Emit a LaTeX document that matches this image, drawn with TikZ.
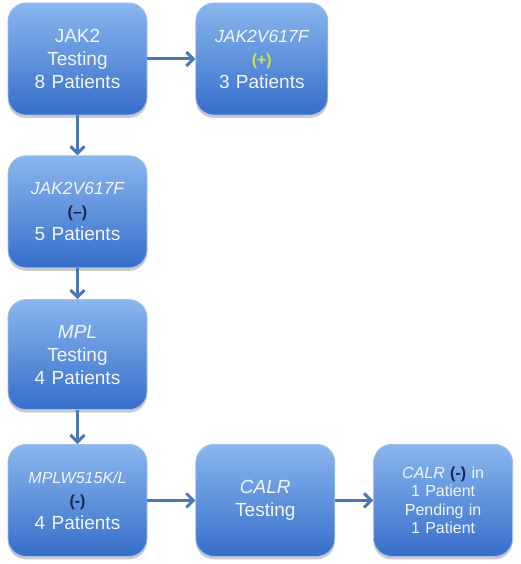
\documentclass[tikz,border=0pt]{standalone}
\usepackage{fontspec}
\setmainfont{Liberation Sans}
\usepackage{xcolor}
\definecolor{boxtop}{RGB}{138,182,238}
\definecolor{boxbot}{RGB}{54,110,202}
\definecolor{boxline}{RGB}{160,192,234}
\definecolor{arrowblue}{RGB}{74,120,181}
\definecolor{plusgreen}{RGB}{205,228,70}
\definecolor{minusnavy}{RGB}{24,38,82}
\definecolor{boxtext}{RGB}{242,246,255}
\usetikzlibrary{arrows.meta, positioning, shadows}
\newcommand{\genename}{\fontsize{17.5}{22}\selectfont\itshape}
\newcommand{\signmark}[2]{{\fontsize{16}{20}\selectfont\bfseries\color{#1}#2}}
\tikzset{
  stepbox/.style={draw=boxline, line width=0.8pt,
    top color=boxtop, bottom color=boxbot,
    rounded corners=18pt, minimum width=139pt, minimum height=112pt,
    text width=132pt, align=center, text=boxtext,
    font=\fontsize{19}{23}\selectfont,
    drop shadow={shadow xshift=0pt, shadow yshift=-3pt,
      fill=black!45, opacity=0.45}},
  smallbox/.style={stepbox, font=\fontsize{16}{18.5}\selectfont},
  flowarrow/.style={-{Straight Barb[length=7pt,width=14pt]},
    line width=3pt, color=arrowblue}
}
\begin{document}
\begin{tikzpicture}[x=1pt, y=1pt]
  \useasboundingbox (0,0) rectangle (520,-564);

  %% Top row
  \node[stepbox] (jaktest) at (77.5,-59) {JAK2\\Testing\\8 Patients};
  \node[stepbox, right=48pt of jaktest, minimum width=132pt,
        text width=124pt] (jakpos)
    {{\genename JAK2V617F}\\\signmark{plusgreen}{(+)}\\3 Patients};

  %% Left column
  \node[stepbox, below=40pt of jaktest] (jakneg)
    {{\genename JAK2V617F}\\\signmark{minusnavy}{(--)}\\5 Patients};
  \node[stepbox, below=31pt of jakneg, minimum height=110pt] (mpltest)
    {{\itshape MPL}\\Testing\\4 Patients};
  \node[stepbox, below=34pt of mpltest] (mplneg)
    {{\fontsize{16}{20}\selectfont\itshape MPLW515K/L}\\\signmark{minusnavy}{(-)}\\4 Patients};

  %% Bottom row
  \node[stepbox, right=48pt of mplneg] (calrtest) {{\itshape CALR}\\Testing};
  \node[smallbox, right=38pt of calrtest] (calrres)
    {{\itshape CALR} \signmark{minusnavy}{(-)} in\\1 Patient\\Pending in\\1 Patient};

  %% Arrows
  \draw[flowarrow] (jaktest) -- (jakpos);
  \draw[flowarrow] (jaktest) -- (jakneg);
  \draw[flowarrow] (jakneg) -- (mpltest);
  \draw[flowarrow] (mpltest) -- (mplneg);
  \draw[flowarrow] (mplneg) -- (calrtest);
  \draw[flowarrow] (calrtest) -- (calrres);

\end{tikzpicture}
\end{document}
